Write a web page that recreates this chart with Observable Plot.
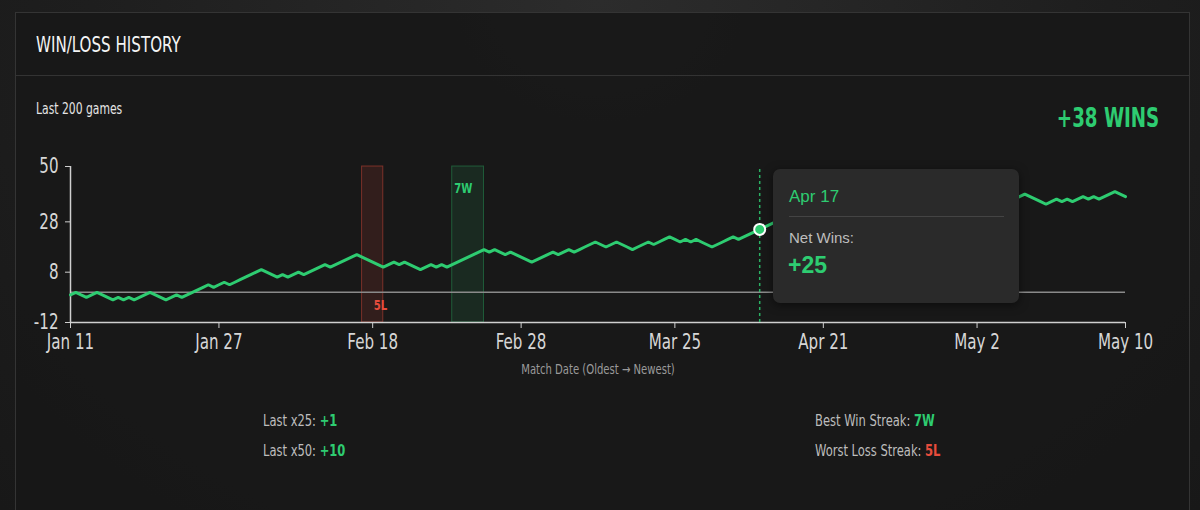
<!DOCTYPE html>
<html>
<head>
<meta charset="utf-8">
<script src="https://cdn.jsdelivr.net/npm/d3@7"></script>
<script src="https://cdn.jsdelivr.net/npm/@observablehq/plot@0.6"></script>
<style>
  html, body { margin: 0; padding: 0; }
  body {
    width: 1200px; height: 510px; overflow: hidden; position: relative;
    background: radial-gradient(ellipse at 50% 0%, #2c2c2c 0%, #1e1e1e 60%, #181818 100%);
    font-family: "DejaVu Sans Condensed", "DejaVu Sans", sans-serif;
  }
  #panel {
    position: absolute; left: 15px; top: 12px; width: 1175px; height: 520px;
    background: rgba(24,24,24,0.93); border: 1px solid #343434; box-sizing: border-box;
  }
  #header { position: absolute; left: 0; top: 0; right: 0; height: 62px; border-bottom: 1px solid #333; }
  .sx { display: inline-block; transform-origin: left center; transform: scaleX(0.8); white-space: nowrap; }
  #title { position: absolute; left: 20px; top: 20px; font-size: 21px; color: #f4f4f4; font-weight: 500; }
  #subtitle { position: absolute; left: 36px; top: 100px; font-size: 15px; color: #e4e4e4; }
  #total { position: absolute; right: 41px; top: 103px; font-size: 26px; font-weight: bold; color: #2ecc71; transform-origin: right center; transform: scaleX(0.78); white-space: nowrap; }
  #chart { position: absolute; left: 0; top: 150px; }
  #tooltip {
    position: absolute; left: 773px; top: 169px; width: 246px; height: 134px;
    background: #2a2a2a; border-radius: 7px; box-shadow: 0 2px 10px rgba(0,0,0,0.5);
    font-family: "Liberation Sans", Arial, sans-serif; box-sizing: border-box;
  }
  #tt-date { position: absolute; left: 16px; top: 18px; font-size: 17px; color: #2ecc71; }
  #tt-sep { position: absolute; left: 16px; right: 15px; top: 47px; border-top: 1px solid #444; }
  #tt-label { position: absolute; left: 16px; top: 60px; font-size: 15px; color: #bdbdbd; }
  #tt-value { position: absolute; left: 15px; top: 83px; font-size: 23px; font-weight: bold; color: #2ecc71; }
  .stat { position: absolute; font-size: 16px; color: #bdbdbd; }
  .stat b { font-weight: bold; }
  .win { color: #2ecc71; }
  .loss { color: #e74c3c; }
</style>
</head>
<body>
<div id="panel">
  <div id="header"><div id="title" class="sx"></div></div>
</div>
<div id="subtitle" class="sx"></div>
<div id="total"></div>
<div id="chart"></div>
<div id="tooltip">
  <div id="tt-date"></div>
  <div id="tt-sep"></div>
  <div id="tt-label"></div>
  <div id="tt-value"></div>
</div>
<div class="stat sx" id="s1" style="left:263px; top:411px;"></div>
<div class="stat sx" id="s2" style="left:263px; top:441px;"></div>
<div class="stat sx" id="s3" style="left:815px; top:411px;"></div>
<div class="stat sx" id="s4" style="left:815px; top:441px;"></div>
<script>
// ---- data ----
const netWins = [
  -1,0,-1,-2,-1,0,-1,-2,-3,-2,-3,-2,-3,-2,-1,0,-1,-2,-3,-2,-1,-2,
  -1,0,1,2,3,2,3,4,3,4,5,6,7,8,9,8,7,6,7,6,
  7,8,7,8,9,10,11,10,11,12,13,14,15,14,13,12,11,10,11,12,
  11,12,11,10,9,10,11,10,11,10,11,12,13,14,15,16,17,16,17,16,
  15,16,15,14,13,12,13,14,15,16,15,16,17,16,17,18,19,20,19,18,
  19,20,19,18,17,18,19,20,19,20,21,22,21,20,21,20,21,20,19,18,
  19,20,21,22,21,22,23,24,25,26,27,28,27,26,27,28,29,28,27,28,
  29,30,29,28,29,30,29,28,29,30,31,32,31,30,31,32,33,34,33,32,
  33,34,35,34,35,36,35,34,35,36,37,36,37,38,37,36,37,38,39,38,
  37,36,35,36,37,36,37,36,37,38,37,38,37,38,39,40,39,38
];
const xTickGames  = [0, 28, 57, 85, 114, 142, 171, 199];
const xTickLabels = ["Jan 11", "Jan 27", "Feb 18", "Feb 28", "Mar 25", "Apr 21", "May 2", "May 10"];
const yTicks = [-12, 8, 28, 50];
const streakStarts = [55, 72];
const streakEnds   = [59, 78];
const streakLabels = ["5L", "7W"];
const streakKinds  = ["loss", "win"];
const hoverGame = 130;
const hoverDate = "Apr 17";
const titleText = "WIN/LOSS HISTORY";
const subtitleText = "Last 200 games";
const totalLabel = "+38 WINS";
const statLabels = ["Last x25:", "Last x50:", "Best Win Streak:", "Worst Loss Streak:"];
const statValues = ["+1", "+10", "7W", "5L"];
const statKinds  = ["win", "win", "win", "loss"];
const xAxisLabel = "Match Date (Oldest \u2192 Newest)";

// ---- build ----
const GREEN = "#2ecc71", RED = "#e74c3c";
const COND = '"DejaVu Sans Condensed", "DejaVu Sans", sans-serif';
const points = netWins.map((v, i) => ({game: i, net: v}));
const streaks = streakStarts.map((s, i) => ({x1: s, x2: streakEnds[i], label: streakLabels[i], kind: streakKinds[i]}));
const lossStreaks = streaks.filter(d => d.kind === "loss");
const winStreaks = streaks.filter(d => d.kind === "win");
const hover = points[hoverGame];

document.getElementById("title").textContent = titleText;
document.getElementById("subtitle").textContent = subtitleText;
document.getElementById("total").textContent = totalLabel;
document.getElementById("tt-date").textContent = hoverDate;
document.getElementById("tt-label").textContent = "Net Wins:";
document.getElementById("tt-value").textContent = (hover.net > 0 ? "+" : "") + hover.net;
["s1","s2","s3","s4"].forEach((id, i) => {
  const el = document.getElementById(id);
  el.textContent = statLabels[i] + " ";
  const b = document.createElement("b");
  b.className = statKinds[i];
  b.textContent = statValues[i];
  el.appendChild(b);
});

const chart = Plot.plot({
  width: 1200,
  height: 240,
  marginLeft: 70,
  marginRight: 75,
  marginTop: 16,
  marginBottom: 68,
  x: {domain: [0, 199], axis: null},
  y: {domain: [-12, 50], axis: null},
  style: {background: "transparent", color: "#d6d6d6", fontFamily: COND, overflow: "visible"},
  marks: [
    Plot.rect(lossStreaks, {x1: "x1", x2: "x2", y1: -12, y2: 50, fill: RED, fillOpacity: 0.13, stroke: RED, strokeOpacity: 0.45}),
    Plot.rect(winStreaks, {x1: "x1", x2: "x2", y1: -12, y2: 50, fill: GREEN, fillOpacity: 0.1, stroke: GREEN, strokeOpacity: 0.35}),
    Plot.text(lossStreaks, {x: "x2", text: "label", frameAnchor: "bottom", dy: -13, dx: 4, textAnchor: "end", fill: RED, fontWeight: "bold", fontSize: 14}),
    Plot.text(winStreaks, {x: "x1", text: "label", frameAnchor: "top", dy: 17, dx: 2, textAnchor: "start", fill: GREEN, fontWeight: "bold", fontSize: 14}),
    Plot.ruleY([0], {stroke: "#8a8a8a", strokeWidth: 1.5}),
    Plot.ruleX([0], {stroke: "#cfcfcf", strokeWidth: 1.5}),
    Plot.ruleY([-12], {stroke: "#cfcfcf", strokeWidth: 1.5}),
    Plot.axisY({ticks: yTicks, tickFormat: d => String(d), label: null, tickSize: 5, tickPadding: 7, fontSize: 21, stroke: "#cfcfcf"}),
    Plot.axisX({ticks: xTickGames, tickFormat: d => xTickLabels[xTickGames.indexOf(d)], label: null, tickSize: 6, tickPadding: 6, fontSize: 21, stroke: "#cfcfcf"}),
    Plot.text([xAxisLabel], {frameAnchor: "bottom", dy: 51, fontSize: 14, fill: "#9a9a9a"}),
    Plot.line(points, {x: "game", y: "net", stroke: GREEN, strokeWidth: 3, strokeLinejoin: "miter"}),
    Plot.ruleX([hover], {x: "game", y1: -12, y2: 50, stroke: GREEN, strokeWidth: 1.5, strokeDasharray: "3,3", strokeOpacity: 0.85}),
    Plot.dot([hover], {x: "game", y: "net", r: 5.5, fill: GREEN, stroke: "#ffffff", strokeWidth: 2})
  ]
});
// condense the chart's texts (the reference uses a narrow typeface)
d3.select(chart).selectAll("text").each(function() {
  const t = this.getAttribute("transform") || "";
  this.setAttribute("transform", (t + " scale(0.8,1)").trim());
  const x = this.getAttribute("x");
  if (x) this.setAttribute("x", +x / 0.8);
});
document.getElementById("chart").appendChild(chart);
</script>
</body>
</html>
